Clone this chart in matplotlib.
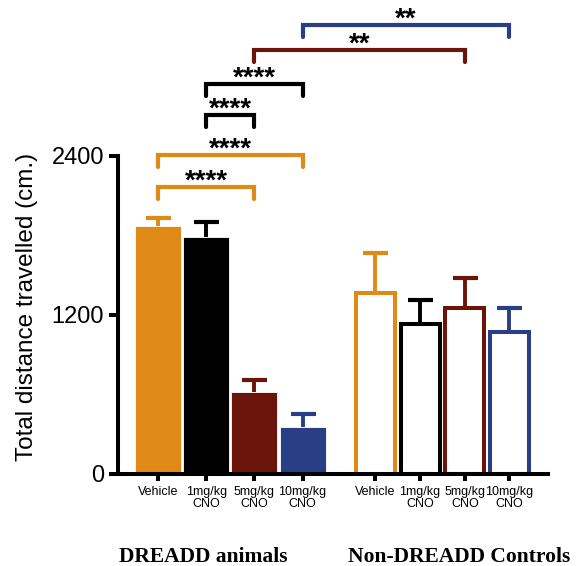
import matplotlib
matplotlib.use("Agg")
import matplotlib.pyplot as plt
import matplotlib.transforms as mtransforms
import numpy as np

# Treatment groups and measured locomotion (mean and SEM, cm)
categories = ["Vehicle", "1mg/kg\nCNO", "5mg/kg\nCNO", "10mg/kg\nCNO"]
dreadd_means = [1872, 1791, 619, 355]
dreadd_sem = [62, 109, 90, 93]
control_means = [1366, 1132, 1248, 1069]
control_sem = [302, 179, 226, 182]
group_names = ["DREADD animals", "Non-DREADD Controls"]
y_ticks = [0, 1200, 2400]

# Pairwise comparisons: (bar index a, bar index b, label); indices 0-3 DREADD, 4-7 controls
comparisons = [(0, 2, "****"), (0, 3, "****"), (1, 2, "****"),
               (1, 3, "****"), (2, 6, "**"), (3, 7, "**")]
bracket_levels = [2166, 2407, 2710, 2944, 3201, 3390]

colors = ["#DF8A17", "#000000", "#6B1409", "#293E84"]

plt.rcParams["font.family"] = ["Liberation Sans", "DejaVu Sans"]

W, H = 586, 566
fig = plt.figure(figsize=(W / 100, H / 100), dpi=100)
ax = fig.add_axes([118 / W, (H - 473.5) / H, (548 - 118) / W, 473.5 / H])

x_dreadd = 0.83 + np.arange(4) * 1.0
x_ctrl = 5.34 + np.arange(4) * 0.927
lw = 2.9

# Filled bars: DREADD animals
ax.bar(x_dreadd, dreadd_means, width=0.955, color=colors,
       edgecolor="white", linewidth=0.6, zorder=2)
# Open bars: non-DREADD controls
ax.bar(x_ctrl, control_means, width=0.81, facecolor="white",
       edgecolor=colors, linewidth=lw, zorder=2)

# Upper-only error bars (SEM)
for xs, means, sems in ((x_dreadd, dreadd_means, dreadd_sem),
                        (x_ctrl, control_means, control_sem)):
    for x, m, s, c in zip(xs, means, sems, colors):
        _, caps, _ = ax.errorbar(x, m, yerr=[[0], [s]], fmt="none", ecolor=c,
                                 elinewidth=2.8, capsize=9, capthick=3,
                                 zorder=1)
        caps[0].set_visible(False)

# Significance brackets
all_x = np.concatenate([x_dreadd, x_ctrl])
drop = 90
text_tr = mtransforms.offset_copy(ax.transData, fig=fig, y=-1.5, units="dots")
for (a, b, label), level in zip(comparisons, bracket_levels):
    c = colors[a % 4]
    xa, xb = all_x[a], all_x[b]
    ax.plot([xa, xa, xb, xb], [level - drop, level, level, level - drop],
            color=c, lw=3, solid_capstyle="round", solid_joinstyle="miter",
            clip_on=False, zorder=3)
    ax.text((xa + xb) / 2, level, label, transform=text_tr, ha="center",
            va="baseline", fontsize=20, fontweight="bold", color="black")

ax.set_xlim(0, 430 / 48.2)
ax.set_ylim(0, 473.5 / 0.1323)
ax.set_yticks(y_ticks)
ax.set_yticklabels([str(t) for t in y_ticks])
ax.set_xticks(all_x)
ax.set_xticklabels(categories * 2, fontsize=9, linespacing=0.95)

for side in ("top", "right"):
    ax.spines[side].set_visible(False)
ax.spines["left"].set_bounds(0, 2400)
ax.spines["left"].set_linewidth(lw)
ax.spines["bottom"].set_linewidth(lw)
ax.tick_params(axis="y", length=6.5, width=lw, labelsize=17, pad=3.5)
ax.tick_params(axis="x", length=5, width=lw, pad=4)

fig.text(27 / W, 1 - 307 / H, "Total distance travelled (cm.)", rotation=90,
         ha="center", va="center", fontsize=17.5)

for name, cx in zip(group_names, (203, 459)):
    fig.text(cx / W, (H - 562) / H, name, ha="center", va="baseline",
             fontsize=15.5, fontweight="bold",
             family=["Liberation Serif", "DejaVu Serif"])

fig.savefig("out.png", dpi=100)
